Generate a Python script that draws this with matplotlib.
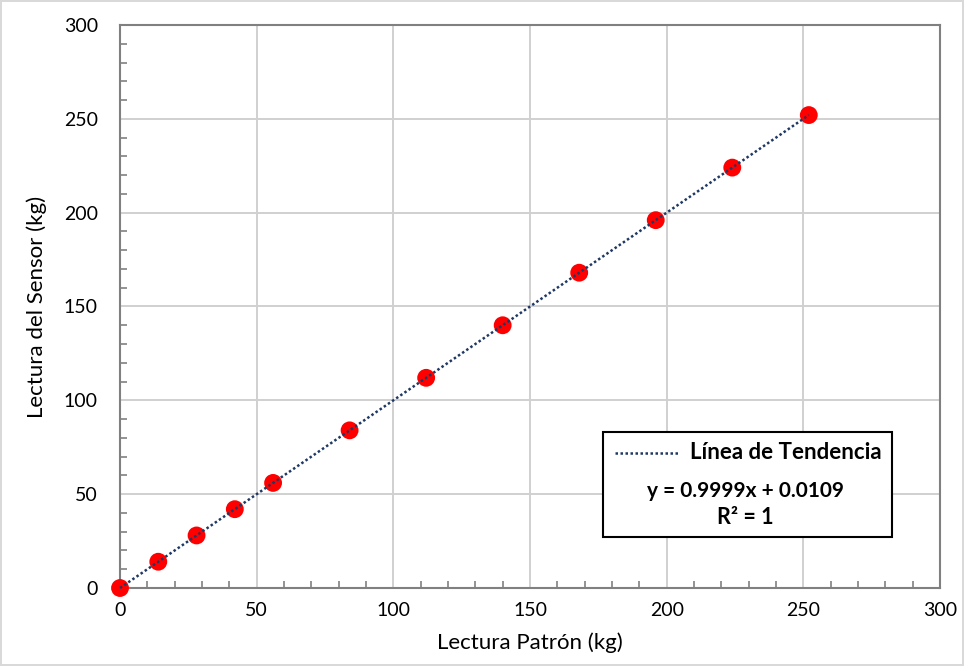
import matplotlib
matplotlib.use("Agg")
import matplotlib.pyplot as plt
import numpy as np
from matplotlib.patches import Rectangle
from matplotlib.lines import Line2D
from matplotlib.ticker import MultipleLocator

plt.rcParams['font.family'] = ['Lato', 'DejaVu Sans']

# Calibration readings
patron = [0, 14, 28, 42, 56, 84, 112, 140, 168, 196, 224, 252]
sensor = [0, 14, 28, 42, 56, 84, 112, 140, 168, 196, 224, 252]
slope = 0.9999
intercept = 0.0109
eq_text = "y = 0.9999x + 0.0109"
r2_text = "R² = 1"
legend_label = "Línea de Tendencia"

fig = plt.figure(figsize=(9.64, 6.66), dpi=100)
fig.patch.set_facecolor("white")
fig.patch.set_edgecolor("#d9d9d9")
fig.patch.set_linewidth(1.5)

ax = fig.add_axes([0.1245, 0.1171, 0.8506, 0.8454])

dot_style = (0, (1, 1.0))
trend_x = np.array([min(patron), max(patron)])
trend_y = slope * trend_x + intercept
ax.plot(trend_x, trend_y, linestyle=dot_style, color="#1f3864",
        linewidth=1.8, zorder=4, clip_on=False)
ax.scatter(patron, sensor, s=165, color="#ff0000", edgecolors="none",
           zorder=3, clip_on=False)

ax.set_xlim(0, 300)
ax.set_ylim(0, 300)
ax.xaxis.set_major_locator(MultipleLocator(50))
ax.yaxis.set_major_locator(MultipleLocator(50))
ax.xaxis.set_minor_locator(MultipleLocator(10))
ax.yaxis.set_minor_locator(MultipleLocator(10))
ax.grid(True, which="major", color="#d0d0d0", linewidth=1.4)
ax.set_axisbelow(True)

for sp in ax.spines.values():
    sp.set_color("#808080")
    sp.set_linewidth(1.5)

ax.tick_params(which="major", direction="in", length=0, labelsize=14,
               colors="#808080", labelcolor="black")
ax.tick_params(axis="x", which="major", pad=10)
ax.tick_params(axis="y", which="major", pad=16)
ax.tick_params(which="minor", direction="in", length=5, width=1.2,
               colors="#808080")

ax.set_xlabel("Lectura Patrón (kg)", fontsize=16, labelpad=10)
ax.set_ylabel("Lectura del Sensor (kg)", fontsize=16, labelpad=12)

# Legend box with trend equation
bx0, by0, bw, bh = 0.589, 0.0906, 0.3525, 0.1864
ax.add_patch(Rectangle((bx0, by0), bw, bh, transform=ax.transAxes,
                       facecolor="white", edgecolor="black", linewidth=1.5,
                       zorder=10))
ax.add_line(Line2D([0.604, 0.680], [0.2398, 0.2398], transform=ax.transAxes,
                   linestyle=dot_style, color="#1f3864", linewidth=1.8,
                   zorder=11))
ax.text(0.6956, 0.2398, legend_label, transform=ax.transAxes, fontsize=16,
        fontweight="bold", ha="left", va="center", zorder=11)
ax.text(0.7622, 0.1723, eq_text, transform=ax.transAxes, fontsize=15,
        fontweight="bold", ha="center", va="center", zorder=11)
ax.text(0.7622, 0.1260, r2_text, transform=ax.transAxes, fontsize=15.5,
        fontweight="bold", ha="center", va="center", zorder=11)

fig.savefig("out.png", dpi=100, facecolor=fig.get_facecolor(),
            edgecolor=fig.get_edgecolor())
